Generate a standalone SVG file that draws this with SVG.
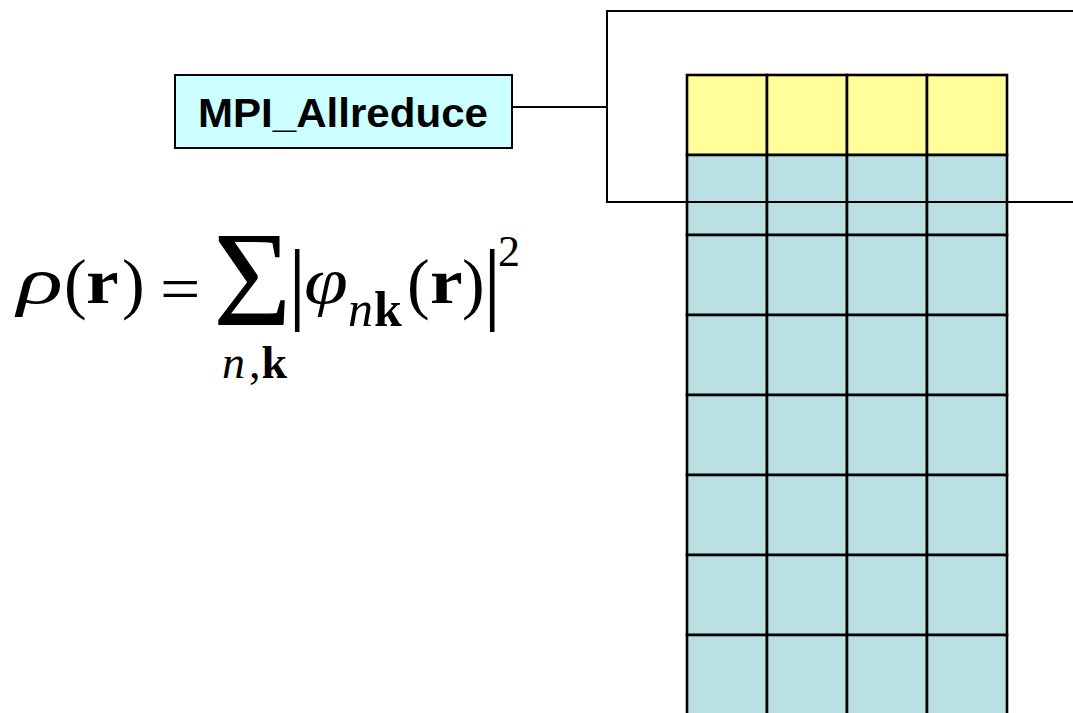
<svg xmlns="http://www.w3.org/2000/svg" width="1073" height="713" viewBox="0 0 1073 713">
<style>
.cell{stroke:#000;stroke-width:2.6}
.y{fill:#FFFF99}
.b{fill:#BBE0E3}
.ln{fill:none;stroke:#000;stroke-width:2}
.lbl{font-family:"Liberation Sans",Arial,sans-serif;font-weight:bold;font-size:41px;fill:#000}
.m{font-family:"Liberation Serif","Times New Roman",serif;fill:#000}
.i{font-style:italic}
.bd{font-weight:bold}
</style>
<rect width="1073" height="713" fill="#fff"/>
<g id="grid">
<rect class="cell y" x="687" y="75" width="80" height="80"/>
<rect class="cell y" x="767" y="75" width="80" height="80"/>
<rect class="cell y" x="847" y="75" width="80" height="80"/>
<rect class="cell y" x="927" y="75" width="80" height="80"/>
<rect class="cell b" x="687" y="155" width="80" height="80"/><rect class="cell b" x="767" y="155" width="80" height="80"/><rect class="cell b" x="847" y="155" width="80" height="80"/><rect class="cell b" x="927" y="155" width="80" height="80"/>
<rect class="cell b" x="687" y="235" width="80" height="80"/><rect class="cell b" x="767" y="235" width="80" height="80"/><rect class="cell b" x="847" y="235" width="80" height="80"/><rect class="cell b" x="927" y="235" width="80" height="80"/>
<rect class="cell b" x="687" y="315" width="80" height="80"/><rect class="cell b" x="767" y="315" width="80" height="80"/><rect class="cell b" x="847" y="315" width="80" height="80"/><rect class="cell b" x="927" y="315" width="80" height="80"/>
<rect class="cell b" x="687" y="395" width="80" height="80"/><rect class="cell b" x="767" y="395" width="80" height="80"/><rect class="cell b" x="847" y="395" width="80" height="80"/><rect class="cell b" x="927" y="395" width="80" height="80"/>
<rect class="cell b" x="687" y="475" width="80" height="80"/><rect class="cell b" x="767" y="475" width="80" height="80"/><rect class="cell b" x="847" y="475" width="80" height="80"/><rect class="cell b" x="927" y="475" width="80" height="80"/>
<rect class="cell b" x="687" y="555" width="80" height="80"/><rect class="cell b" x="767" y="555" width="80" height="80"/><rect class="cell b" x="847" y="555" width="80" height="80"/><rect class="cell b" x="927" y="555" width="80" height="80"/>
<rect class="cell b" x="687" y="635" width="80" height="80"/><rect class="cell b" x="767" y="635" width="80" height="80"/><rect class="cell b" x="847" y="635" width="80" height="80"/><rect class="cell b" x="927" y="635" width="80" height="80"/>
</g>
<g id="connectors">
<polyline class="ln" points="1075,11 607,11 607,202 1075,202"/>
<line class="ln" x1="512" y1="107" x2="607" y2="107"/>
</g>
<g id="mpi_allreduce">
<rect x="175" y="75" width="337" height="73" fill="#CCFFFF" stroke="#000" stroke-width="2"/>
<text class="lbl" x="198" y="127" textLength="290" lengthAdjust="spacingAndGlyphs">MPI_Allreduce</text>
</g>
<g id="formula">
<text class="m i" transform="translate(17,303) scale(1.45,1)" font-size="66">ρ</text>
<text class="m" x="64" y="306" font-size="68">(</text>
<text class="m bd" transform="translate(86,303) scale(1.15,1)" font-size="64">r</text>
<text class="m" x="122" y="306" font-size="68">)</text>
<text class="m" transform="translate(160,310) scale(1.12,1)" font-size="64">=</text>
<text class="m" transform="translate(213,325) scale(1.0,1)" font-size="135">Σ</text>
<text class="m" x="288" y="313" font-size="92">|</text>
<text class="m i" transform="translate(304,303) scale(1.2,1)" font-size="66">φ</text>
<text class="m" x="348" y="326" font-size="50"><tspan class="i">n</tspan><tspan class="bd" dx="1">k</tspan></text>
<text class="m" x="407" y="306" font-size="68">(</text>
<text class="m bd" transform="translate(430,303) scale(1.15,1)" font-size="64">r</text>
<text class="m" x="462" y="306" font-size="68">)</text>
<text class="m" x="483" y="313" font-size="92">|</text>
<text class="m" x="498" y="266" font-size="44">2</text>
<text class="m" x="222" y="378" font-size="46"><tspan class="i">n</tspan><tspan dx="4">,</tspan><tspan class="bd" dx="1">k</tspan></text>
</g>
</svg>
